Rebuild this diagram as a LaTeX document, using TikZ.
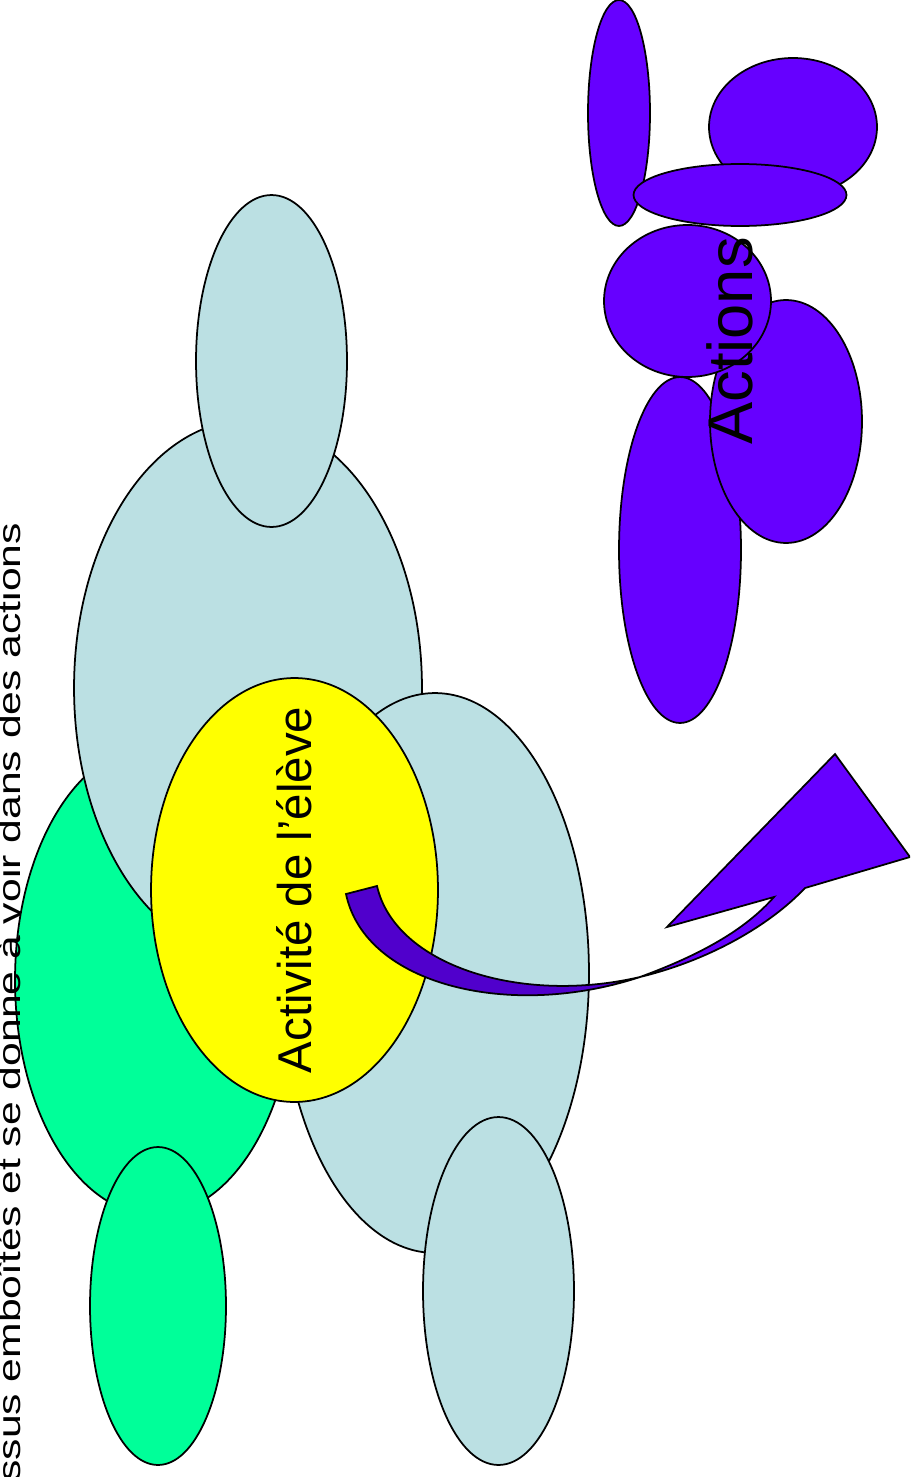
\documentclass[tikz,border=0pt]{standalone}
\usepackage{fontspec}
\setmainfont{Liberation Sans}
\usetikzlibrary{shapes.geometric}
\definecolor{vertpale}{HTML}{00FF99}
\definecolor{bleuclair}{HTML}{BBE0E3}
\definecolor{jaune}{HTML}{FFFF00}
\definecolor{violact}{HTML}{6600FF}
\definecolor{violfonce}{HTML}{5000CC}
\begin{document}
\begin{tikzpicture}[x=0.02cm, y=-0.02cm,
    blob/.style={ellipse, draw, line width=1pt, inner sep=0pt},
    fleche/.style={draw, line width=1pt, line join=miter}]
  \useasboundingbox (0,0) rectangle (910,1477);
  \clip (0,0) rectangle (910,1477);
  % processus de l'eleve
  \draw
    (155,980) node[blob, fill=vertpale, minimum width=5.6cm, minimum height=9.4cm] (v1) {}
    (158,1306) node[blob, fill=vertpale, minimum width=2.72cm, minimum height=6.36cm] (v2) {}
    (248,688) node[blob, fill=bleuclair, minimum width=6.96cm, minimum height=10.72cm] (b1) {}
    (271.5,361) node[blob, fill=bleuclair, minimum width=3.02cm, minimum height=6.64cm] (b2) {}
    (435,973) node[blob, fill=bleuclair, minimum width=6.16cm, minimum height=11.2cm] (b3) {}
    (498.5,1291) node[blob, fill=bleuclair, minimum width=3.02cm, minimum height=6.96cm] (b4) {}
    (294.5,890) node[blob, fill=jaune, minimum width=5.74cm, minimum height=8.48cm] (eleve) {};
  % actions
  \draw
    (619,113) node[blob, fill=violact, minimum width=1.24cm, minimum height=4.52cm] (a1) {}
    (793,127) node[blob, fill=violact, minimum width=3.36cm, minimum height=2.76cm] (a2) {}
    (740,195) node[blob, fill=violact, minimum width=4.26cm, minimum height=1.24cm] (a3) {}
    (680,550) node[blob, fill=violact, minimum width=2.44cm, minimum height=6.92cm] (a6) {}
    (786,421.5) node[blob, fill=violact, minimum width=3.04cm, minimum height=4.86cm] (a5) {}
    (687.5,301) node[blob, fill=violact, minimum width=3.34cm, minimum height=3.04cm] (a4) {};
  % fleche courbe
  \coordinate (queueA) at (346,894);
  \coordinate (queueB) at (377,886);
  \coordinate (croise) at (640,977);
  \coordinate (baseP) at (805,888);
  \coordinate (pointeR) at (910,857);
  \coordinate (pointeT) at (835,754);
  \coordinate (pointeL) at (667,927);
  \coordinate (encocheN) at (774,897);
  \path[fleche, fill=violfonce] (queueA) .. controls (365,985) and (510,1020) .. (croise)
    .. controls (520,1005) and (395,965) .. (queueB) -- cycle;
  \path[fleche, fill=violact] (croise) .. controls (710,960) and (770,925) .. (baseP)
    -- (pointeR) -- (pointeT) -- (pointeL) -- (encocheN)
    .. controls (745,930) and (700,955) .. (croise) -- cycle;
  % textes
  \node[rotate=90, font=\fontsize{27}{32}\selectfont] (activite) at (eleve) {Activité de l’élève};
  \node[rotate=90, anchor=base west, inner sep=0pt, font=\fontsize{36}{42}\selectfont] (actions) at (752,445) {Actions};
  \node[rotate=90, anchor=base west, inner sep=0pt, font=\fontsize{18}{21}\selectfont] (titre) at (20.5,1482)
    {\scalebox{1.35}[1]{ssus emboîtés et se donne à voir dans des actions}};
\end{tikzpicture}
\end{document}
